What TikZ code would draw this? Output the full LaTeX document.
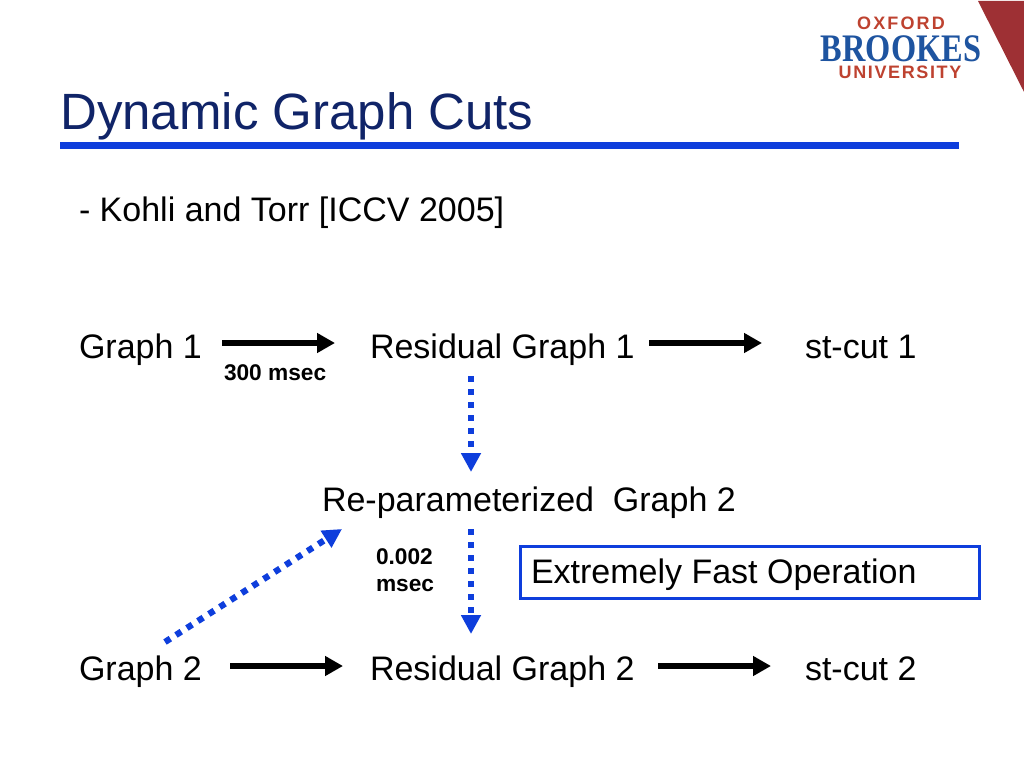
\documentclass[tikz,border=0pt]{standalone}
\usepackage{fontspec}
\setmainfont{Liberation Sans}
\newfontfamily\logoserif[FakeStretch=0.83]{Liberation Serif}
\newfontfamily\logosansA[LetterSpace=12]{Liberation Sans}
\newfontfamily\logosansB[LetterSpace=9]{Liberation Sans}
\usetikzlibrary{arrows.meta}
\definecolor{titleblue}{RGB}{16,36,104}
\definecolor{ruleblue}{RGB}{14,62,220}
\definecolor{logored}{RGB}{158,48,52}
\definecolor{logotext}{RGB}{190,66,48}
\definecolor{logoblue}{RGB}{30,84,160}
\tikzset{x=1pt,y=-1pt,
  lab/.style={anchor=base west,inner sep=0pt,outer sep=0pt,font=\fontsize{34}{38}\selectfont},
  small/.style={anchor=base west,inner sep=0pt,outer sep=0pt,font=\bfseries\fontsize{22.7}{26}\selectfont},
  solidarrow/.style={line width=5.2pt,-{Triangle[length=18pt,width=19pt]}},
  dotarrow/.style={ruleblue,line width=6.3pt,dash pattern=on 6.3pt off 6.7pt,-{Triangle[length=19pt,width=19pt]}}
}
\begin{document}
\begin{tikzpicture}
\useasboundingbox (0,0) rectangle (1024,768);
\fill[white] (0,0) rectangle (1024,768);
% logo
\fill[logored] (978,1) -- (1024,1) -- (1024,92) -- cycle;
\node[anchor=base,inner sep=0pt,text=logotext,font=\logosansA\bfseries\fontsize{18}{20}\selectfont] (oxford) at (901,29.5) {OXFORD};
\node[anchor=base,inner sep=0pt,text=logoblue,font=\logoserif\bfseries\fontsize{39}{40}\selectfont] (brookes) at (901,61.5) {BROOKES};
\node[anchor=base,inner sep=0pt,text=logotext,font=\logosansB\bfseries\fontsize{18}{20}\selectfont] (univ) at (900,78.5) {UNIVERSITY};
% title
\node[anchor=base west,inner sep=0pt,text=titleblue,font=\fontsize{51}{55}\selectfont] (title) at (60,129) {Dynamic Graph Cuts};
\fill[ruleblue] (60,142) rectangle (959,149);
\node[lab] (ref) at (79,221.5) {- Kohli and Torr [ICCV 2005]};
% row 1
\node[lab] (g1) at (79,358.7) {Graph 1};
\node[lab] (r1) at (370,358.7) {Residual Graph 1};
\node[lab] (s1) at (805,358.7) {st-cut 1};
\node[small] (t1) at (224,380) {300 msec};
% middle
\node[lab] (rp) at (322,511.7) {Re-parameterized\ \ Graph 2};
\node[small] (t2a) at (376,564) {0.002};
\node[small] (t2b) at (376,591) {msec};
\node[draw=ruleblue,line width=2.5pt,anchor=north west,inner sep=0pt,outer sep=0pt,minimum width=459pt,minimum height=52pt] (box) at (520.5,546.5) {};
\node[lab] (fast) at (531,583.7) {Extremely Fast Operation};
% row 2
\node[lab] (g2) at (79,680.7) {Graph 2};
\node[lab] (r2) at (370,680.7) {Residual Graph 2};
\node[lab] (s2) at (805,680.7) {st-cut 2};
% connector ends
\coordinate (a1s) at (222,343); \coordinate (a1e) at (335,343);
\coordinate (a2s) at (649,343); \coordinate (a2e) at (762,343);
\coordinate (a3s) at (230,666); \coordinate (a3e) at (343,666);
\coordinate (a4s) at (658,666); \coordinate (a4e) at (771,666);
\coordinate (d1s) at (471,376); \coordinate (d1e) at (471,472);
\coordinate (d2s) at (471,529); \coordinate (d2e) at (471,634);
\coordinate (d3s) at (165,642); \coordinate (d3e) at (342,529);
\draw[solidarrow] (a1s) -- (a1e);
\draw[solidarrow] (a2s) -- (a2e);
\draw[solidarrow] (a3s) -- (a3e);
\draw[solidarrow] (a4s) -- (a4e);
\draw[dotarrow] (d1s) -- (d1e);
\draw[dotarrow] (d2s) -- (d2e);
\draw[dotarrow] (d3s) -- (d3e);
\end{tikzpicture}
\end{document}
